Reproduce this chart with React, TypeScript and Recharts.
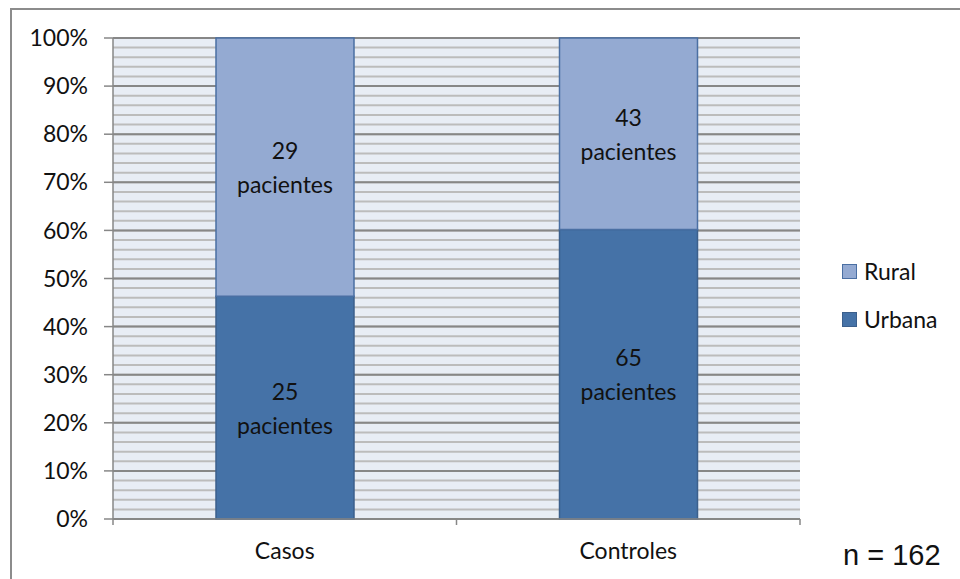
import React from 'react';
import { BarChart, Bar, XAxis, YAxis, CartesianGrid, LabelList } from 'recharts';

// grupos y número de pacientes por procedencia
const grupos = ['Casos', 'Controles'];
const urbana = [25, 65];
const rural = [29, 43];
const totalPacientes = 162;

const ticksMayores = [0, 0.1, 0.2, 0.3, 0.4, 0.5, 0.6, 0.7, 0.8, 0.9, 1];
const ticksMenores = [
  0, 0.02, 0.04, 0.06, 0.08, 0.1, 0.12, 0.14, 0.16, 0.18, 0.2, 0.22, 0.24, 0.26, 0.28, 0.3,
  0.32, 0.34, 0.36, 0.38, 0.4, 0.42, 0.44, 0.46, 0.48, 0.5, 0.52, 0.54, 0.56, 0.58, 0.6,
  0.62, 0.64, 0.66, 0.68, 0.7, 0.72, 0.74, 0.76, 0.78, 0.8, 0.82, 0.84, 0.86, 0.88, 0.9,
  0.92, 0.94, 0.96, 0.98, 1,
];
// eje X numérico en [0, 1]: bordes entre categorías y centros con el nombre del grupo
const nGrupos = grupos.length;
const ticksEjeX = Array.from({ length: 2 * nGrupos + 1 }, (_, i) => i / (2 * nGrupos));

const series = [
  { key: 'urbana', name: 'Urbana', fill: '#4572a7', stroke: '#3b5f8c' },
  { key: 'rural', name: 'Rural', fill: '#94aad2', stroke: '#4a6fa3' },
];

const data = grupos.map((g, i) => ({ grupo: g, urbana: urbana[i], rural: rural[i] }));

const FONT = 'Lato, "Noto Sans", sans-serif';

// etiqueta de dos líneas centrada en cada segmento
const Etiqueta = (props: any) => {
  const { x, y, width, height, value } = props;
  const cx = x + width / 2;
  const cy = y + height / 2;
  return (
    <text x={cx} textAnchor="middle" fontFamily={FONT} fontSize={23} fill="#111">
      <tspan x={cx} y={cy - 8}>{value}</tspan>
      <tspan x={cx} y={cy + 26}>pacientes</tspan>
    </text>
  );
};

const TickX = (props: any) => {
  const { x, y, payload } = props;
  const pos = Math.round(payload.value * 2 * nGrupos);
  if (pos % 2 === 0) {
    return <line x1={x} x2={x} y1={y} y2={y + 6} stroke="#878787" strokeWidth={1.5} />;
  }
  return (
    <text x={x} y={y + 40} textAnchor="middle" fontFamily={FONT} fontSize={23} fill="#111">
      {grupos[(pos - 1) / 2]}
    </text>
  );
};

export default function App() {
  return (
    <div style={{ position: 'absolute', left: 0, top: 0, width: 960, height: 579, overflow: 'hidden', background: '#fff' }}>
      <div
        style={{
          position: 'absolute', left: 10, top: 8, width: 1000, height: 700,
          borderLeft: '2px solid #8c8c8c', borderTop: '2px solid #8c8c8c',
        }}
      />
      <BarChart
        width={960}
        height={579}
        data={data}
        stackOffset="expand"
        margin={{ top: 38, right: 160, bottom: 30, left: 0 }}
        style={{ position: 'absolute', left: 0, top: 0 }}
      >
        <CartesianGrid yAxisId="menor" vertical={false} stroke="#bcbcbc" strokeWidth={2} fill="#e8edf5" />
        <CartesianGrid vertical={false} stroke="#878787" strokeWidth={2} />
        <XAxis dataKey="grupo" hide height={0} />
        <XAxis
          xAxisId="bordes"
          type="number"
          domain={[0, 1]}
          allowDataOverflow
          ticks={ticksEjeX}
          interval={0}
          minTickGap={0}
          height={30}
          stroke="#878787"
          strokeWidth={1.5}
          tickLine={false}
          tickSize={0}
          tickMargin={0}
          tick={TickX}
        />
        <YAxis
          width={113}
          domain={[0, 1]}
          ticks={ticksMayores}
          interval={0}
          tickFormatter={(v: number) => `${Math.round(v * 100)}%`}
          stroke="#878787"
          strokeWidth={1.5}
          tickSize={9}
          tickMargin={16}
          tick={{ fontFamily: FONT, fontSize: 23, fill: '#111' }}
        />
        <YAxis yAxisId="menor" hide domain={[0, 1]} ticks={ticksMenores} interval={0} />
        {series.map((s) => (
          <Bar
            key={s.key}
            dataKey={s.key}
            name={s.name}
            stackId="a"
            fill={s.fill}
            stroke={s.stroke}
            strokeWidth={1.5}
            barSize={138}
            isAnimationActive={false}
          >
            <LabelList dataKey={s.key} content={Etiqueta} />
          </Bar>
        ))}
      </BarChart>
      {/* leyenda, en orden inverso al apilado */}
      <div style={{ position: 'absolute', left: 842, top: 247, fontFamily: FONT, fontSize: 23, color: '#111' }}>
        {[...series].reverse().map((s) => (
          <div key={s.key} style={{ display: 'flex', alignItems: 'center', height: 48 }}>
            <span
              style={{
                display: 'inline-block', width: 13, height: 13, background: s.fill,
                border: `1.5px solid ${s.stroke}`, marginRight: 7,
              }}
            />
            {s.name}
          </div>
        ))}
      </div>
      <div
        style={{
          position: 'absolute', left: 843, top: 537, fontFamily: '"Liberation Sans", Arial, sans-serif',
          fontSize: 29, color: '#111', lineHeight: '36px',
        }}
      >
        n = {totalPacientes}
      </div>
    </div>
  );
}
